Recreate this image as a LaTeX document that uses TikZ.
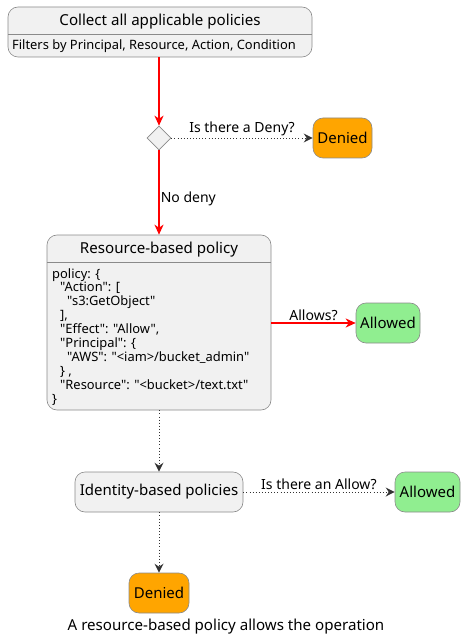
\documentclass[tikz,border=0pt]{standalone}
\usepackage{fontspec}
\setmainfont{Noto Sans}[Ligatures=TeXOff]
\usetikzlibrary{arrows.meta,shapes.geometric}

\definecolor{boxgray}{HTML}{F1F1F1}
\definecolor{bordergray}{HTML}{8A8A8A}
\definecolor{flowgray}{HTML}{333333}
\definecolor{deniedorange}{HTML}{FFA500}
\definecolor{allowedgreen}{HTML}{90EE90}
\definecolor{flowred}{HTML}{FF0000}

\newcommand{\ind}[1]{\hspace*{#1pt}}

\begin{document}
\begin{tikzpicture}[x=1pt,y=-1pt,
    state/.style={draw=bordergray,fill=boxgray,rounded corners=10pt,line width=0.6pt,inner sep=0pt},
    outcome/.style={state,minimum height=40pt,font=\fontsize{15}{17}\selectfont},
    titletext/.style={inner sep=0pt,font=\fontsize{15.1}{17}\selectfont},
    bodytext/.style={inner sep=0pt,align=left,font=\fontsize{12.9}{13.9}\selectfont},
    edgelabel/.style={inner sep=2pt,font=\fontsize{14}{16}\selectfont},
    redflow/.style={draw=flowred,line width=1.6pt,-{Stealth[length=10pt,width=9pt,inset=3pt]}},
    dotflow/.style={draw=flowgray,line width=0.9pt,dash pattern=on 0.9pt off 2.2pt,-{Stealth[length=9pt,width=9pt,inset=3pt]}}]
  \useasboundingbox (0,0) rectangle (465,644);

  % collect step
  \node[state,minimum width=304pt,minimum height=50pt] (collect) at (160,32) {};
  \node[titletext,anchor=base] (collecttitle) at (160,25.5) {Collect all applicable policies};
  \draw[bordergray,line width=0.6pt] (8,34) -- (312,34);
  \node[bodytext,anchor=base west] (collectbody) at (12,49.5) {Filters by Principal, Resource, Action, Condition};

  % deny check
  \node[diamond,draw=bordergray,fill=boxgray,line width=0.6pt,minimum width=24pt,minimum height=24pt,inner sep=0pt] (choice) at (159,138) {};
  \node[outcome,fill=deniedorange,minimum width=59pt] (denyfirst) at (342.5,138) {Denied};

  % resource-based policy
  \node[state,minimum width=224pt,minimum height=175pt] (resource) at (159,322.5) {};
  \node[titletext,anchor=base] (resourcetitle) at (159,253.5) {Resource-based policy};
  \draw[bordergray,line width=0.6pt] (47,262) -- (271,262);
  \node[bodytext,anchor=north west] (resourcebody) at (52,268) {policy: \{\\
    \ind{8}"Action": [\\
    \ind{15}"s3:GetObject"\\
    \ind{8}],\\
    \ind{8}"Effect": "Allow",\\
    \ind{8}"Principal": \{\\
    \ind{15}"AWS": "<iam>/bucket\_admin"\\
    \ind{8}\} ,\\
    \ind{8}"Resource": "<bucket>/text.txt"\\
    \}};
  \node[outcome,fill=allowedgreen,minimum width=64pt] (allowfirst) at (388,323) {Allowed};

  % identity-based policies
  \node[state,minimum width=168pt,minimum height=40pt,font=\fontsize{15}{17}\selectfont] (identity) at (159,492) {Identity-based policies};
  \node[outcome,fill=allowedgreen,minimum width=65pt] (allowsecond) at (427.5,492) {Allowed};
  \node[outcome,fill=deniedorange,minimum width=60pt] (denysecond) at (159,593) {Denied};

  \node[titletext] (caption) at (226,627) {A resource-based policy allows the operation};

  % flows
  \draw[redflow] (choice |- collect.south) -- (choice.north);
  \draw[dotflow] (choice.east) -- node[edgelabel,above] {Is there a Deny?} (denyfirst.west);
  \draw[redflow] (choice.south) -- node[edgelabel,right,pos=0.57,inner sep=1pt] {No deny} (resource.north);
  \draw[redflow] (resource.east |- allowfirst.west) -- node[edgelabel,above] {Allows?} (allowfirst.west);
  \draw[dotflow] (resource.south) -- (identity.north);
  \draw[dotflow] (identity.east) -- node[edgelabel,above] {Is there an Allow?} (allowsecond.west);
  \draw[dotflow] (identity.south) -- (denysecond.north);
\end{tikzpicture}
\end{document}
